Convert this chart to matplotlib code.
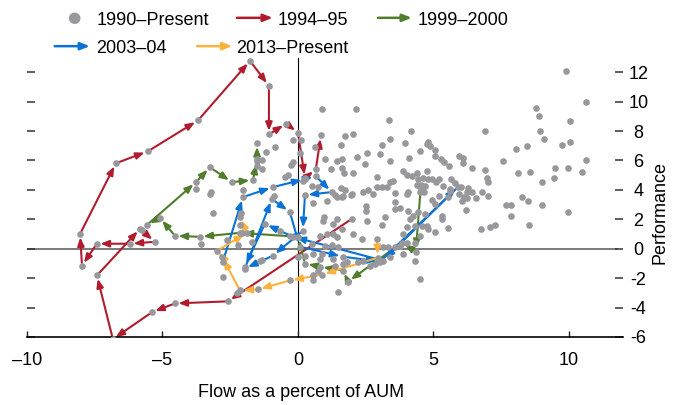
import numpy as np
import matplotlib
matplotlib.use("Agg")
import matplotlib.pyplot as plt

plt.rcParams['font.family'] = ['Liberation Sans', 'DejaVu Sans']
plt.rcParams['font.size'] = 13

# --- data (flow as % of AUM, performance) ---
# scatter points not on a highlighted path
gray_x = [0.89, 2.14, 3.36, 4.17, 1.73, 2.03, 0.63, 1.59, 3.39, 3.10, 3.95, 4.76, 4.80, 1.44, 1.62, 2.18,
          2.55, 3.03, 3.39, 4.10, 2.47, 1.22, 1.62, 1.70, 2.03, 2.92, 3.51, 3.87, 4.02, 4.21, 4.39, 4.61,
          4.76, 2.92, 2.58, 3.28, 3.58, 4.02, 4.54, 4.65, 0.52, 0.74, 1.59, 1.73, 1.99, 1.66, 1.37, 0.11,
          0.07, 9.89, 10.63, 8.78, 8.89, 10.04, 6.90, 8.93, 9.08, 9.74, 10.04, 8.04, 8.45, 5.06, 5.06, 5.28,
          5.39, 5.57, 5.94, 6.09, 6.09, 6.42, 6.90, 7.56, 10.63, 8.12, 8.56, 9.00, 9.48, 9.45, 9.96, 10.48,
          4.94, 5.20, 5.09, 5.65, 5.79, 6.97, 7.01, 6.01, 6.27, 5.61, 5.94, 6.79, 6.57, 5.20, 5.54, 8.27,
          4.69, 6.13, 6.05, 6.24, 6.20, 7.68, 7.86, 8.49, 9.00, 9.96, 7.86, 7.27, 7.08, 6.75, 8.52, 5.31,
          5.31, 5.06, 4.94, 4.76, 4.80, 5.06, 5.54, 4.69, 0.55, 1.07, 1.44, 1.62, 1.96, 2.51, 2.51, 2.55,
          3.10, 3.21, 3.58, 3.58, 3.76, 4.06, 4.13, 4.24, 4.43, 4.02, 4.32, 4.58, 4.50, 3.87, 0.96, 0.92,
          1.44, 1.29, 1.62, 2.03, 2.36, 0.81, 1.07, 1.29, 1.44, 0.52, 1.00, 1.25, 1.48, 3.14, 3.32, 3.58,
          3.76, 4.02, 4.32, 0.55, 0.89, 0.81, 0.26, 1.29, 1.81, 2.21, 2.40, 2.66, 2.84, 3.39, 3.87, 4.32,
          4.50, 1.37, 1.66, 0.55, 0.55, 1.48, 0.74, -3.14, -2.10, -2.14, -2.07, -2.62, -2.21, -2.77, -1.70,
          -0.66, -0.30, 0.00, -1.33, -1.40, -2.25, -3.58, -3.25, -0.85, -0.18, -1.18, -1.51, -1.33, -1.33,
          -0.18, -0.26, -0.37, -0.48, -3.76, -3.21, -2.03, -0.89, 0.18, -5.76, 1.00, -1.51, 4.87, 4.50,
          4.80, 4.43, 5.35, 5.61, 6.24, 6.42, 7.01, 3.39, 4.06, 4.39, 4.50, 3.10, 2.40, 2.77]
gray_y = [9.53, 9.53, 8.72, 7.97, 7.64, 7.77, 6.89, 7.03, 7.43, 7.03, 7.16, 7.09, 7.23, 5.95, 6.08, 6.22,
          6.49, 6.42, 5.95, 6.15, 5.74, 5.41, 5.47, 5.14, 5.14, 4.86, 4.59, 5.27, 5.00, 4.93, 5.14, 4.80,
          5.27, 4.19, 3.99, 4.19, 3.78, 3.72, 4.12, 3.85, 4.26, 4.19, 4.12, 3.99, 3.72, 3.58, 3.65, 7.36,
          6.49, 12.09, 10.00, 9.59, 8.99, 8.65, 7.97, 7.97, 7.43, 7.03, 7.23, 6.76, 6.96, 6.69, 6.28, 6.08,
          5.88, 5.61, 6.28, 6.15, 5.81, 5.47, 5.34, 5.95, 6.01, 5.14, 5.20, 4.53, 5.47, 4.80, 5.47, 5.20,
          4.73, 4.73, 4.53, 4.73, 4.46, 4.80, 4.53, 4.19, 4.12, 3.92, 3.72, 3.85, 3.45, 3.58, 3.51, 3.51,
          4.26, 3.51, 3.24, 3.45, 2.64, 2.97, 2.97, 3.24, 2.97, 2.50, 2.23, 1.62, 1.49, 1.35, 1.62, 2.23,
          2.03, 3.04, 3.31, 1.55, 1.35, 1.15, 1.42, 2.36, 3.11, 3.24, 3.51, 3.51, 3.65, 2.91, 2.57, 1.89,
          1.62, 2.16, 3.18, 2.70, 2.77, 2.57, 2.03, 2.23, 2.50, 1.49, 1.55, 1.55, 0.88, 1.01, 2.16, 1.89,
          2.03, 1.69, 1.35, 1.01, 0.68, 0.88, 1.01, 1.01, 0.81, 0.34, 0.20, 0.27, 0.14, 0.14, 0.14, 0.14,
          0.20, 0.41, 0.41, -0.34, -0.34, -0.68, -0.47, -0.68, -0.88, -0.88, -0.81, -1.15, -1.01, -0.54, -0.34, -0.81,
          -2.09, -1.15, -1.01, -1.82, -2.16, -2.91, -1.49, 2.43, 2.43, 1.62, 1.08, 0.61, 0.27, -1.89, 0.47,
          1.22, 0.88, -0.54, -0.74, -0.81, -3.04, 0.34, 3.72, 6.89, 7.36, 6.55, 6.08, 6.01, 5.41,
          5.88, 5.68, 5.00, 4.86, 4.05, 3.85, 3.99, 3.58, 4.59, 1.28, 6.08, 5.61, 6.96, 6.62,
          4.73, 4.73, 4.26, 4.05, 3.85, 3.85, 3.58, 4.53, 3.85, 4.32, 3.85, 4.19, 3.85, 3.72]

# highlighted episodes (chronological order)
red_x = [1.99, -2.58, -4.54, -5.39, -6.83, -7.42, -5.83, -5.28, -6.20, -7.42, -7.97, -8.04, -6.72,
         -5.54, -3.69, -1.77, -1.07, -1.07, -0.44, 0.00, 0.26, 0.66, 0.85]
red_y = [2.03, -3.58, -3.72, -4.32, -6.15, -1.82, 1.35, 0.47, 0.34, 0.34, -1.15, 1.01, 5.81,
         6.62, 8.72, 12.77, 11.08, 7.77, 8.51, 7.90, 4.80, 5.40, 7.70]

green_x = [4.54, 4.35, 3.84, 1.85, 1.66, 0.81, 0.26, 0.00, -2.14, -3.62, -4.54, -5.09, -5.57,
           -3.76, -3.25, -2.44, -1.66, -1.51, -1.51]
green_y = [4.32, -0.20, 0.41, -2.23, -1.49, -1.22, -1.01, 0.81, 1.08, 0.81, 0.88, 2.09, 1.62,
           4.53, 5.54, 4.53, 4.66, 5.95, 7.16]

blue_x = [-2.77, -2.03, -0.92, 0.26, 0.66, 1.25, 0.26, 0.18, -0.92, -1.96, -0.96, -0.30, 0.07,
          1.66, 3.03, 5.90, 3.14, -0.18, -1.22, -1.96]
blue_y = [-0.88, 3.51, 4.19, 4.73, 4.93, 3.85, 3.65, 1.22, -0.47, -1.35, 3.38, 2.50, 0.14,
          -0.54, -0.88, 4.19, -0.81, 0.81, 1.69, -1.22]

orange_x = [2.92, 2.95, 0.89, -0.30, -1.48, -2.14, -2.80, -2.99, -1.88, -2.14]
orange_y = [0.68, -0.61, -1.76, -2.16, -2.77, -2.84, -0.54, -0.14, 1.08, 2.16]

labels = ['1990\u2013Present', '1994\u201395', '1999\u20132000', '2003\u201304', '2013\u2013Present']
gray = '#98989c'
red = '#b01c2e'
green = '#4f7d2b'
blue = '#0a72d4'
orange = '#fbb13c'

fig = plt.figure(figsize=(6.75, 4.05), dpi=100)
ax = fig.add_axes([0.040, 0.168, 0.883, 0.690])

arrow_style = '-|>,head_length=0.5,head_width=0.2'


def draw_path(xs, ys, color):
    for i in range(len(xs) - 1):
        ax.annotate('', xy=(xs[i + 1], ys[i + 1]), xytext=(xs[i], ys[i]),
                    arrowprops=dict(arrowstyle=arrow_style, color=color, lw=1.5,
                                    shrinkA=2, shrinkB=2.5, mutation_scale=10),
                    annotation_clip=False, zorder=2)


ax.axhline(0, xmin=0, xmax=0.99, color='#707070', lw=1.3, zorder=1)
ax.axvline(0, color='black', lw=0.8, zorder=1)

draw_path(red_x, red_y, red)
draw_path(green_x, green_y, green)
draw_path(blue_x, blue_y, blue)
draw_path(orange_x, orange_y, orange)

all_x = gray_x + red_x + green_x + blue_x + orange_x
all_y = gray_y + red_y + green_y + blue_y + orange_y
ax.scatter(all_x, all_y, s=23, color=gray, linewidths=0, zorder=3)

ax.set_xlim(-10, 12)
ax.set_ylim(-6, 13)

for side in ['left', 'right', 'top']:
    ax.spines[side].set_visible(False)
ax.spines['bottom'].set_linewidth(1.2)

ax.set_xticks([-10, -5, 0, 5, 10], labels=['\u201310', '\u20135', '0', '5', '10'])
ax.tick_params(axis='x', direction='in', length=4, width=1, pad=11, color='#222222')

yt = [-6, -4, -2, 0, 2, 4, 6, 8, 10, 12]
ax.set_yticks(yt, labels=[str(v) for v in yt])
ax.tick_params(axis='y', direction='in', length=5.5, width=1.1, color='#333333',
               left=True, right=True, labelleft=False, labelright=True, pad=11)
for t in ax.yaxis.get_major_ticks():
    t.label2.set_horizontalalignment('center')

ax.set_xlabel('Flow as a percent of AUM')
ax.xaxis.set_label_coords(0.46, -0.17)
ax.yaxis.set_label_position('right')
ax.set_ylabel('Performance', rotation=90)
ax.yaxis.set_label_coords(1.047, 0.447)

# legend drawn by hand (two rows, flowing layout)
fig.text(0.110, 0.956, '\u25CF', color=gray, fontsize=11, ha='center', va='center',
         family='DejaVu Sans')
fig.text(0.143, 0.938, labels[0], va='baseline')
leg_arrows = [(0.351, 0.404, 0.956, red, 0.411, labels[1]),
              (0.560, 0.610, 0.956, green, 0.618, labels[2]),
              (0.081, 0.133, 0.886, blue, 0.143, labels[3]),
              (0.292, 0.344, 0.886, orange, 0.350, labels[4])]
for x0, x1, yy, c, tx, lab in leg_arrows:
    ax.annotate('', xy=(x1, yy), xytext=(x0, yy), xycoords='figure fraction',
                arrowprops=dict(arrowstyle=arrow_style, color=c, lw=1.8,
                                shrinkA=0, shrinkB=0, mutation_scale=11),
                annotation_clip=False)
    fig.text(tx, yy - 0.018, lab, va='baseline')

fig.savefig('out.png', dpi=100)
